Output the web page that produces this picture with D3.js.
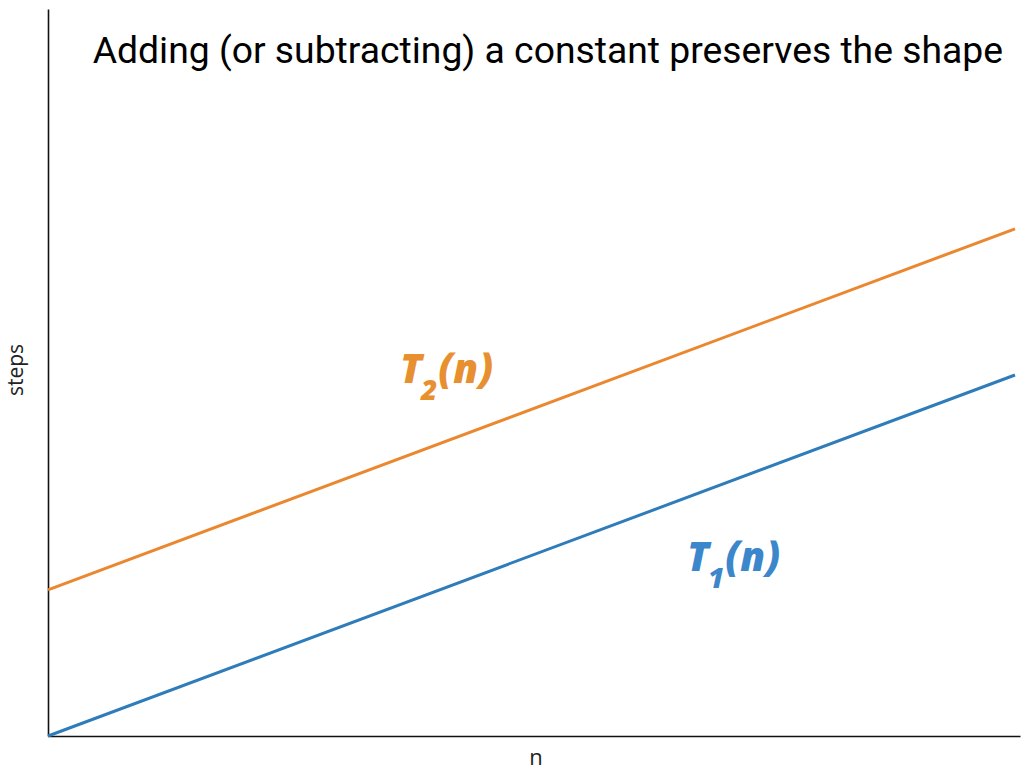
<!DOCTYPE html>
<html>
<head>
<meta charset="utf-8">
<script src="https://cdn.jsdelivr.net/npm/d3@7"></script>
<style>
  html, body { margin: 0; padding: 0; background: #fff; }
  svg { display: block; }
</style>
</head>
<body>
<svg id="chart" width="1023" height="771"></svg>
<script>
// Input sizes and step counts for two cost functions that differ by a constant
const nValues = [0, 10];
const t1Values = [0, 10];
const t2Values = [4.05, 14.05];
const seriesNames = ["T1", "T2"];
const titleText = "Adding (or subtracting) a constant preserves the shape";
const xLabel = "n";
const yLabel = "steps";

const svg = d3.select("#chart");
const plotLeft = 48, plotBottom = 736, plotRight = 1015, plotTop = 14;

const x = d3.scaleLinear().domain([0, 10]).range([plotLeft, plotRight]);
const y = d3.scaleLinear().domain([0, 20]).range([plotBottom, plotTop]);

// Axes: spines only, no ticks; spines run slightly past the data range
const xAxisScale = x.copy().domain([0, 10.05]).range([plotLeft, 1020]);
const yAxisScale = y.copy().domain([0, 20.14]).range([plotBottom, 9]);
svg.append("g")
  .attr("transform", `translate(0,${plotBottom})`)
  .call(d3.axisBottom(xAxisScale).tickValues([]).tickSizeOuter(0))
  .select(".domain").attr("stroke", "#111").attr("stroke-width", 1.6);
svg.append("g")
  .attr("transform", `translate(${plotLeft},0)`)
  .call(d3.axisLeft(yAxisScale).tickValues([]).tickSizeOuter(0))
  .select(".domain").attr("stroke", "#111").attr("stroke-width", 1.6);

const line = d3.line().x(d => x(d[0])).y(d => y(d[1]));
const series = [
  { name: seriesNames[1], values: t2Values, color: "#ea872f" },
  { name: seriesNames[0], values: t1Values, color: "#2f7cba" }
];
series.forEach(s => {
  svg.append("path")
    .datum(nValues.map((n, i) => [n, s.values[i]]))
    .attr("fill", "none")
    .attr("stroke", s.color)
    .attr("stroke-width", 3)
    .attr("d", line);
});

// Title
svg.append("text")
  .attr("x", 1003).attr("y", 63)
  .attr("text-anchor", "end")
  .attr("font-family", "Roboto, sans-serif")
  .attr("font-size", 37.3)
  .attr("fill", "#000")
  .text(titleText);

// Axis labels
svg.append("text")
  .attr("x", 536).attr("y", 765)
  .attr("text-anchor", "middle")
  .attr("font-family", "'Open Sans', 'DejaVu Sans', sans-serif")
  .attr("font-size", 22)
  .attr("fill", "#222")
  .text(xLabel);
svg.append("text")
  .attr("transform", "translate(23,370) rotate(-90)")
  .attr("text-anchor", "middle")
  .attr("font-family", "'Open Sans', 'DejaVu Sans', sans-serif")
  .attr("font-size", 21)
  .attr("fill", "#222")
  .text(yLabel);

// Series labels T₂(n) and T₁(n)
function seriesLabel(px, py, sub, color) {
  const t = svg.append("text")
    .attr("x", px).attr("y", py)
    .attr("font-family", "'Open Sans', sans-serif")
    .attr("font-size", 40)
    .attr("font-weight", 800)
    .attr("font-style", "italic")
    .attr("fill", color);
  t.append("tspan").text("T");
  t.append("tspan").attr("dy", 17).attr("dx", -1).attr("font-size", 28).text(sub);
  t.append("tspan").attr("dy", -17).attr("dx", 1).text("(n)");
}
seriesLabel(400, 383, "2", "#e88f30");
seriesLabel(687, 571, "1", "#3c86cb");
</script>
</body>
</html>
